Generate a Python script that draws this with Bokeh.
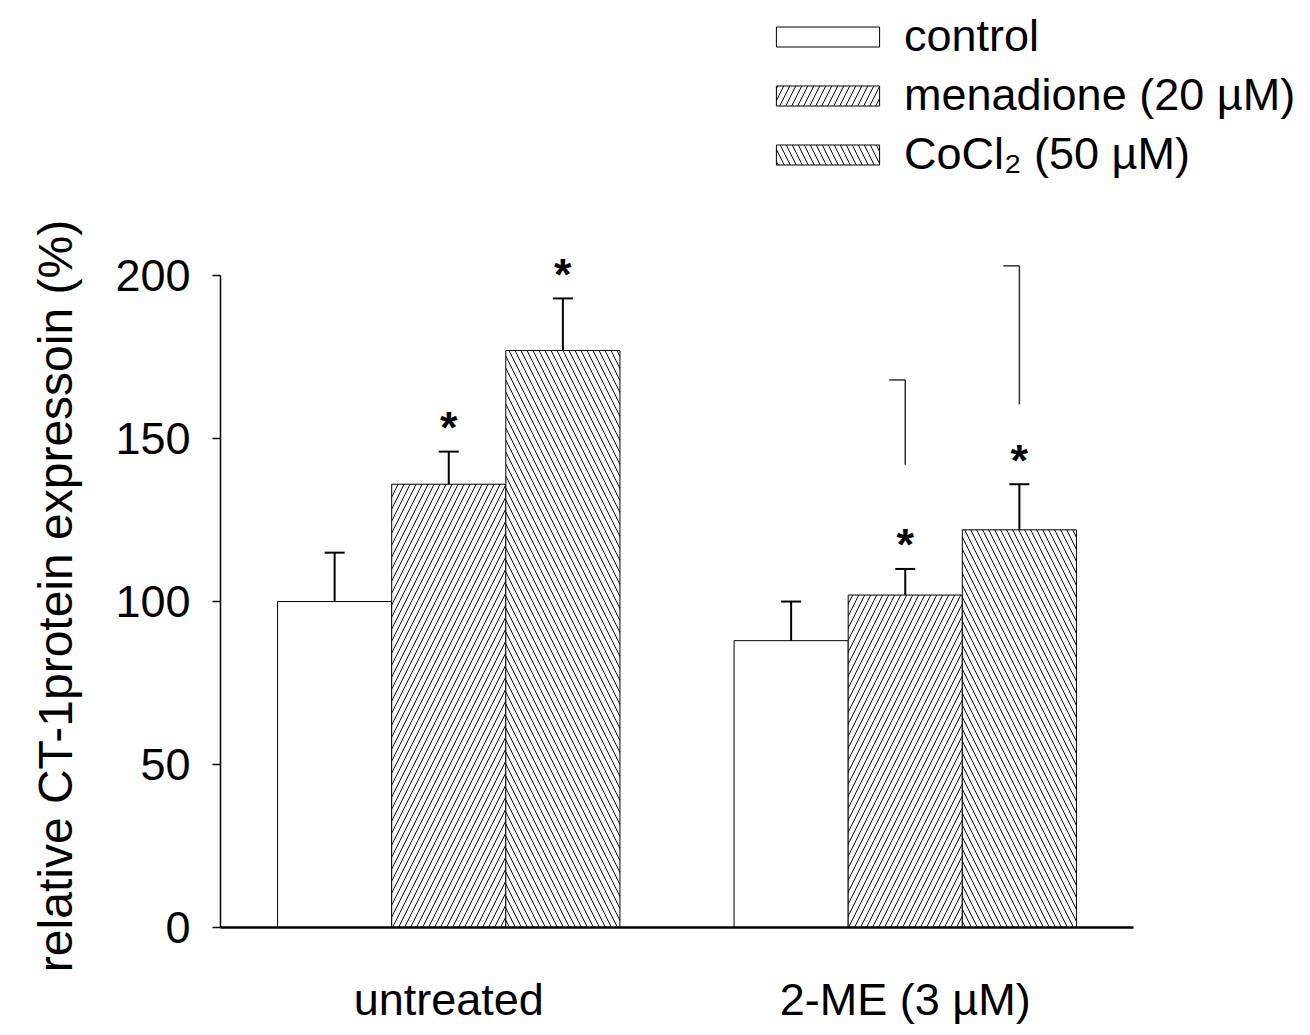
from bokeh.plotting import figure
from bokeh.models import (ColumnDataSource, Range1d, FixedTicker, Whisker, TeeHead,
                          Legend, LegendItem)
from bokeh.core.properties import value
from bokeh.embed import file_html
from bokeh.resources import INLINE

# ---------------- data ----------------
groups = ["untreated", "2-ME (3 µM)"]
series_labels = ["control", "menadione (20 µM)", "CoCl₂ (50 µM)"]
y_label = "relative CT-1protein expressoin (%)"

control_mean = [100, 88]
control_err = [15, 12]
menadione_mean = [136, 102]
menadione_err = [10, 8]
cocl2_mean = [177, 122]
cocl2_err = [16, 14]

control_sig = [False, False]
menadione_sig = [True, True]
cocl2_sig = [True, True]

# stray bracket lines drawn above the 2-ME menadione and CoCl2 bars
stray_group = 1
stray_series = [1, 2]
stray_low = [142, 160.5]
stray_high = [168, 203]

y_ticks = [0, 50, 100, 150, 200]

# ---------------- style ----------------
FONT = "Liberation Sans"
FS = "45px"
GROUP_STEP = 4
hatches = [None, "/", "\\"]

means = [control_mean, menadione_mean, cocl2_mean]
errs = [control_err, menadione_err, cocl2_err]
sigs = [control_sig, menadione_sig, cocl2_sig]

W, H = 1294, 1027
LEFT, BOTTOM_PX = 220, 930           # frame left edge / zero line (px)
X_UNIT = 114.125                     # px per bar
Y_UNIT = 3.27                        # px per percent
x_start, x_axis_end = -1, 7
x_end = x_start + (W - LEFT) / X_UNIT
y_end = BOTTOM_PX / Y_UNIT

p = figure(width=W, height=H,
           x_range=Range1d(x_start, x_end), y_range=Range1d(0, y_end),
           output_backend="svg", toolbar_location=None,
           min_border_left=LEFT, min_border_right=0,
           min_border_top=0, min_border_bottom=H - BOTTOM_PX)
p.outline_line_color = None
p.xgrid.visible = False
p.ygrid.visible = False
p.background_fill_color = "white"
p.border_fill_color = "white"

bar_renderers = []
for s, (m, e, sg, hp) in enumerate(zip(means, errs, sigs, hatches)):
    xs = [g * GROUP_STEP + s for g in range(len(groups))]
    upper = [a + b for a, b in zip(m, e)]
    src = ColumnDataSource(dict(x=xs, top=m, upper=upper))
    kw = dict(fill_color="white", line_color="black", line_width=1)
    if hp is not None:
        kw.update(hatch_pattern=hp, hatch_color="black", hatch_scale=12, hatch_weight=1)
    r = p.vbar(x="x", top="top", bottom=0, width=1, source=src, **kw)
    bar_renderers.append(r)
    p.add_layout(Whisker(source=src, base="x", lower="top", upper="upper",
                         line_color="black", line_width=2, level="overlay",
                         upper_head=TeeHead(size=20, line_color="black", line_width=2),
                         lower_head=None))
    sx = [x for x, f in zip(xs, sg) if f]
    sy = [u for u, f in zip(upper, sg) if f]
    if sx:
        p.text(x=sx, y=sy, text=value("*"), text_font=value(FONT),
               text_font_size=FS, text_font_style="bold", text_align="center",
               text_baseline="middle", y_offset=-24, text_color="black")

# stray bracket lines
stray_x = [stray_group * GROUP_STEP + s for s in stray_series]
p.segment(x0=stray_x, y0=stray_low, x1=stray_x, y1=stray_high,
          line_color="#333333", line_width=1.5)
p.segment(x0=[x - 0.14 for x in stray_x], y0=stray_high, x1=stray_x, y1=stray_high,
          line_color="#333333", line_width=1.5)

# y axis
ya = p.yaxis[0]
ya.ticker = FixedTicker(ticks=y_ticks)
ya.bounds = (y_ticks[0], y_ticks[-1])
ya.major_tick_out = 8
ya.major_tick_in = 0
ya.minor_tick_out = 0
ya.minor_tick_in = 0
ya.axis_line_width = 1.5
ya.major_tick_line_width = 1.5
ya.major_label_standoff = 22
ya.major_label_text_font = FONT
ya.major_label_text_font_size = FS
ya.major_label_text_color = "black"
# trailing em/en spaces shift the centred label down next to the 0-200 axis
ya.axis_label = y_label + "\u2003" * 5 + "\u2002"
ya.axis_label_text_font = FONT
ya.axis_label_text_font_size = "48px"
ya.axis_label_text_font_style = "normal"
ya.axis_label_text_color = "black"
ya.axis_label_standoff = 30

# x axis
xa = p.xaxis[0]
centers = [g * GROUP_STEP + 1 for g in range(len(groups))]
xa.ticker = FixedTicker(ticks=centers)
xa.bounds = (x_start, x_axis_end)
xa.major_label_overrides = {c: name for c, name in zip(centers, groups)}
xa.major_tick_out = 0
xa.major_tick_in = 0
xa.minor_tick_out = 0
xa.minor_tick_in = 0
xa.axis_line_width = 2.5
xa.major_label_standoff = 46
xa.major_label_text_font = FONT
xa.major_label_text_font_size = FS
xa.major_label_text_color = "black"

legend = Legend(items=[LegendItem(label=lbl, renderers=[r])
                       for lbl, r in zip(series_labels, bar_renderers)],
                location=(543, 747))
legend.glyph_width = 129
legend.glyph_height = 25
legend.label_standoff = 12
legend.spacing = 7
legend.padding = 0
legend.margin = 0
legend.border_line_color = None
legend.background_fill_alpha = 0
legend.label_text_font = FONT
legend.label_text_font_size = FS
legend.label_text_color = "black"
p.add_layout(legend)

open("out.html", "w").write(file_html(p, INLINE))
